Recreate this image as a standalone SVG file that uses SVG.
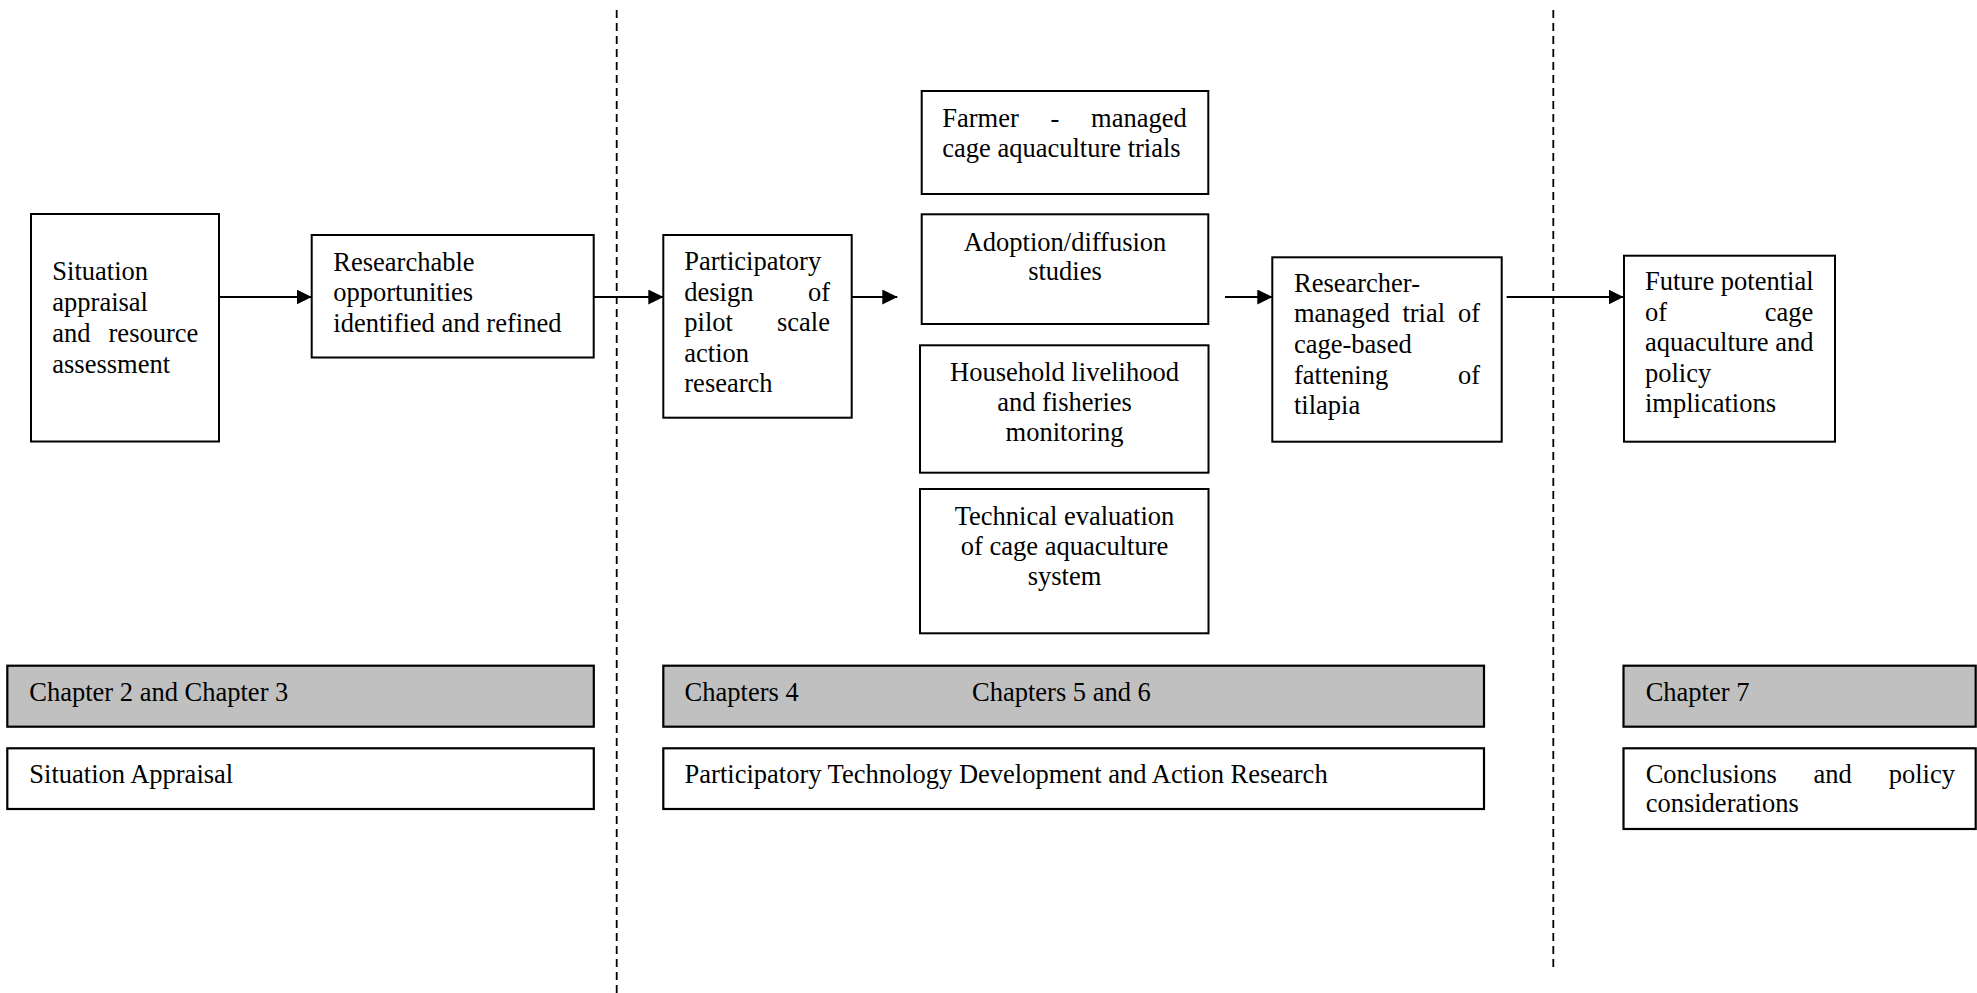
<svg xmlns="http://www.w3.org/2000/svg" width="1977" height="993" viewBox="0 0 1977 993">
<style>
  .box { fill: #ffffff; stroke: #000000; stroke-width: 2; }
  .bar { fill: #c0c0c0; stroke: #000000; stroke-width: 2.2; }
  .wbar { fill: #ffffff; stroke: #000000; stroke-width: 2.2; }
  .t { font-family: "Liberation Serif", "Times New Roman", serif; font-size: 26.5px; fill: #000000; }
  .c { text-anchor: middle; }
  .e { text-anchor: end; }
  .conn { stroke: #000000; stroke-width: 2; fill: none; }
  .dash { stroke: #000000; stroke-width: 1.8; stroke-dasharray: 8 5; fill: none; }
</style>
<defs>
  <marker id="arrow" markerUnits="userSpaceOnUse" markerWidth="15" markerHeight="15" refX="15" refY="7.5" orient="auto">
    <path d="M0,0 L15,7.5 L0,15 z" fill="#000000"/>
  </marker>
</defs>
<rect width="1977" height="993" fill="#ffffff"/>

<g id="dividers">
  <line class="dash" x1="616.7" y1="10" x2="616.7" y2="993"/>
  <line class="dash" x1="1553.3" y1="10" x2="1553.3" y2="968"/>
</g>

<g id="connectors">
  <line class="conn" x1="219" y1="297" x2="311.7" y2="297" marker-end="url(#arrow)"/>
  <line class="conn" x1="594" y1="297" x2="663.3" y2="297" marker-end="url(#arrow)"/>
  <line class="conn" x1="851.7" y1="297" x2="897.3" y2="297" marker-end="url(#arrow)"/>
  <line class="conn" x1="1225" y1="297" x2="1272.3" y2="297" marker-end="url(#arrow)"/>
  <line class="conn" x1="1506.7" y1="297" x2="1623.5" y2="297" marker-end="url(#arrow)"/>
</g>

<g id="situation">
  <rect class="box" x="31" y="214" width="188" height="227.5"/>
  <text class="t" x="52.3" y="280">Situation</text>
  <text class="t" x="52.3" y="310.7">appraisal</text>
  <text class="t" x="52.3" y="341.7">and</text>
  <text class="t e" x="198.3" y="341.7">resource</text>
  <text class="t" x="52.3" y="372.7">assessment</text>
</g>

<g id="researchable">
  <rect class="box" x="311.7" y="235" width="282" height="122.5"/>
  <text class="t" x="333.3" y="270.5">Researchable</text>
  <text class="t" x="333.3" y="301.3">opportunities</text>
  <text class="t" x="333.3" y="332">identified and refined</text>
</g>

<g id="participatory-design">
  <rect class="box" x="663.3" y="235" width="188.4" height="182.7"/>
  <text class="t" x="684.3" y="270">Participatory</text>
  <text class="t" x="684.3" y="300.6">design</text>
  <text class="t e" x="830" y="300.6">of</text>
  <text class="t" x="684.3" y="331.2">pilot</text>
  <text class="t e" x="830" y="331.2">scale</text>
  <text class="t" x="684.3" y="361.7">action</text>
  <text class="t" x="684.3" y="392.3">research</text>
</g>

<g id="farmer-trials">
  <rect class="box" x="921.7" y="91" width="286.6" height="103"/>
  <text class="t" x="942.3" y="126.7">Farmer</text>
  <text class="t" x="1050.5" y="126.7">-</text>
  <text class="t e" x="1186.7" y="126.7">managed</text>
  <text class="t" x="942.3" y="156.7">cage aquaculture trials</text>
</g>

<g id="adoption">
  <rect class="box" x="921.7" y="214.3" width="286.6" height="109.7"/>
  <text class="t c" x="1065" y="250.7">Adoption/diffusion</text>
  <text class="t c" x="1065" y="280">studies</text>
</g>

<g id="household">
  <rect class="box" x="920" y="345.3" width="288.5" height="127.4"/>
  <text class="t c" x="1064.5" y="381">Household livelihood</text>
  <text class="t c" x="1064.5" y="411">and fisheries</text>
  <text class="t c" x="1064.5" y="441">monitoring</text>
</g>

<g id="technical">
  <rect class="box" x="920" y="489" width="288.5" height="144.3"/>
  <text class="t c" x="1064.5" y="525">Technical evaluation</text>
  <text class="t c" x="1064.5" y="555">of cage aquaculture</text>
  <text class="t c" x="1064.5" y="584.5">system</text>
</g>

<g id="researcher-trial">
  <rect class="box" x="1272.3" y="257.3" width="229.4" height="184.4"/>
  <text class="t" x="1294" y="291.7">Researcher-</text>
  <text class="t" x="1294" y="322.3">managed</text>
  <text class="t" x="1402.4" y="322.3">trial</text>
  <text class="t e" x="1480" y="322.3">of</text>
  <text class="t" x="1294" y="353.3">cage-based</text>
  <text class="t" x="1294" y="384.3">fattening</text>
  <text class="t e" x="1480" y="384.3">of</text>
  <text class="t" x="1294" y="414.3">tilapia</text>
</g>

<g id="future">
  <rect class="box" x="1624" y="255.7" width="211" height="186"/>
  <text class="t" x="1645" y="290">Future potential</text>
  <text class="t" x="1645" y="320.5">of</text>
  <text class="t e" x="1813.3" y="320.5">cage</text>
  <text class="t" x="1645" y="351">aquaculture and</text>
  <text class="t" x="1645" y="381.5">policy</text>
  <text class="t" x="1645" y="412">implications</text>
</g>

<g id="chapters-2-3">
  <rect class="bar" x="7.3" y="665.7" width="586.5" height="61"/>
  <text class="t" x="29.3" y="700.7">Chapter 2 and Chapter 3</text>
</g>

<g id="chapters-4-6">
  <rect class="bar" x="663.3" y="665.7" width="820.7" height="61"/>
  <text class="t" x="684.6" y="700.7">Chapters 4</text>
  <text class="t" x="972" y="700.7">Chapters 5 and 6</text>
</g>

<g id="chapter-7">
  <rect class="bar" x="1623.5" y="665.7" width="352.2" height="61"/>
  <text class="t" x="1645.7" y="700.7">Chapter 7</text>
</g>

<g id="situation-appraisal">
  <rect class="wbar" x="7.3" y="748.3" width="586.5" height="60.7"/>
  <text class="t" x="29.3" y="782.7">Situation Appraisal</text>
</g>

<g id="ptd-action-research">
  <rect class="wbar" x="663.3" y="748.3" width="820.7" height="60.7"/>
  <text class="t" x="684.6" y="782.7">Participatory Technology Development and Action Research</text>
</g>

<g id="conclusions">
  <rect class="wbar" x="1623.5" y="748.3" width="352.2" height="80.7"/>
  <text class="t" x="1645.7" y="782.7">Conclusions</text>
  <text class="t" x="1813.4" y="782.7">and</text>
  <text class="t e" x="1955" y="782.7">policy</text>
  <text class="t" x="1645.7" y="811.7">considerations</text>
</g>
</svg>
